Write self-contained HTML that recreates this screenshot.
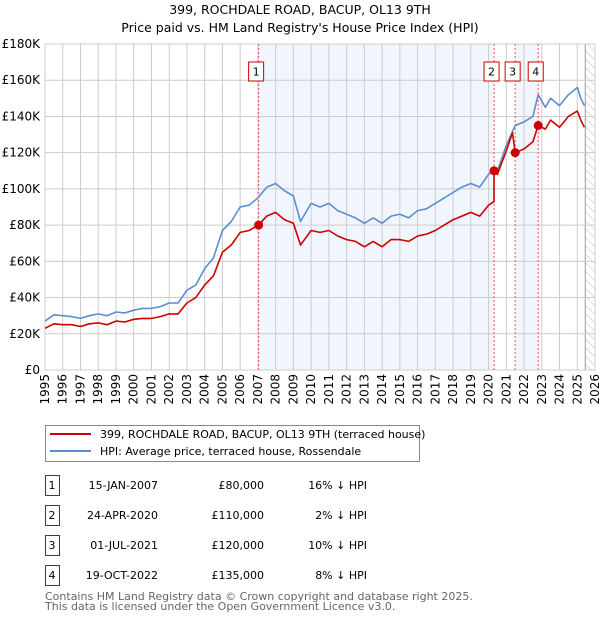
<!DOCTYPE html>
<html><head><meta charset="utf-8"><style>
body{margin:0;background:#fff;font-family:"Liberation Sans","DejaVu Sans",sans-serif;}
svg text{font-family:"DejaVu Sans","Liberation Sans",sans-serif;}
</style></head><body>
<svg id="c" width="600" height="620" xmlns="http://www.w3.org/2000/svg">
<defs><pattern id="hatch" width="6" height="6" patternUnits="userSpaceOnUse" patternTransform="rotate(-45)"><line x1="0" y1="0" x2="0" y2="6" stroke="#bbb" stroke-width="1"/></pattern></defs>
<text x="300" y="14" text-anchor="middle" font-size="12.5">399, ROCHDALE ROAD, BACUP, OL13 9TH</text>
<text x="300" y="32" text-anchor="middle" font-size="12.5">Price paid vs. HM Land Registry's House Price Index (HPI)</text>
<g id="plot"></g>
<g>
<rect x="45.5" y="425.5" width="374" height="36" fill="#fff" stroke="#888"/>
<line x1="50" y1="434" x2="91" y2="434" stroke="#cc0000" stroke-width="2"/>
<text x="100" y="438" font-size="11">399, ROCHDALE ROAD, BACUP, OL13 9TH (terraced house)</text>
<line x1="50" y1="451" x2="91" y2="451" stroke="#5b8ed0" stroke-width="2"/>
<text x="100" y="455" font-size="11">HPI: Average price, terraced house, Rossendale</text>
</g>
<g id="table" font-size="11"></g>
<text x="45" y="600" font-size="11" fill="#666">Contains HM Land Registry data © Crown copyright and database right 2025.</text>
<text x="45" y="610" font-size="11" fill="#666">This data is licensed under the Open Government Licence v3.0.</text>
</svg>
<script>
const hpiYears=[1995,1995.5,1996,1996.5,1997,1997.5,1998,1998.5,1999,1999.5,2000,2000.5,2001,2001.5,2002,2002.5,2003,2003.5,2004,2004.5,2005,2005.5,2006,2006.5,2007,2007.5,2008,2008.5,2009,2009.4,2009.7,2010,2010.5,2011,2011.5,2012,2012.5,2013,2013.5,2014,2014.5,2015,2015.5,2016,2016.5,2017,2017.5,2018,2018.5,2019,2019.5,2020,2020.3,2020.5,2021,2021.5,2022,2022.5,2022.8,2023.2,2023.5,2024,2024.5,2025,2025.2,2025.4];
const hpiValues=[27,30.5,30,29.5,28.5,30,31,30,32,31.5,33,34,34,35,37,37,44,47,56,62,77,82,90,91,95,101,103,99,96,82,87,92,90,92,88,86,84,81,84,81,85,86,84,88,89,92,95,98,101,103,101,108,111,110,124,135,137,140,152,145,150,146,152,156,150,146];
const priceYears=[1995,1995.5,1996,1996.5,1997,1997.5,1998,1998.5,1999,1999.5,2000,2000.5,2001,2001.5,2002,2002.5,2003,2003.5,2004,2004.5,2005,2005.5,2006,2006.5,2007.04,2007.5,2008,2008.5,2009,2009.4,2009.7,2010,2010.5,2011,2011.5,2012,2012.5,2013,2013.5,2014,2014.5,2015,2015.5,2016,2016.5,2017,2017.5,2018,2018.5,2019,2019.5,2020,2020.31,2020.31,2020.5,2021,2021.35,2021.5,2022,2022.5,2022.8,2023.2,2023.5,2024,2024.5,2025,2025.2,2025.4];
const priceValues=[23,25.5,25,25,24,25.5,26,25,27,26.5,28,28.5,28.5,29.5,31,31,37,40,47,52,65,69,76,77,80,85,87,83,81,69,73,77,76,77,74,72,71,68,71,68,72,72,71,74,75,77,80,83,85,87,85,91,93,110,108,121,131,120,122,126,135,133,138,134,140,143,138,134];
const saleLabels=["1","2","3","4"];
const saleYears=[2007.04,2020.31,2021.5,2022.8];
const salePrices=[80,110,120,135];
const saleDates=["15-JAN-2007","24-APR-2020","01-JUL-2021","19-OCT-2022"];
const salePriceText=["£80,000","£110,000","£120,000","£135,000"];
const saleHpiText=["16% ↓ HPI","2% ↓ HPI","10% ↓ HPI","8% ↓ HPI"];
const yTicks=[0,20,40,60,80,100,120,140,160,180];
const yTickLabels=["£0","£20K","£40K","£60K","£80K","£100K","£120K","£140K","£160K","£180K"];
const xTicks=[1995,1996,1997,1998,1999,2000,2001,2002,2003,2004,2005,2006,2007,2008,2009,2010,2011,2012,2013,2014,2015,2016,2017,2018,2019,2020,2021,2022,2023,2024,2025,2026];

const L=45,R=595,T=44,B=370,X0=1995,X1=2026,YMAX=180;
const xs=v=>L+(v-X0)/(X1-X0)*(R-L);
const ys=v=>B-v/YMAX*(B-T);
const NS="http://www.w3.org/2000/svg";
const plot=document.getElementById('plot');
function mk(tag,attrs,parent){const e=document.createElementNS(NS,tag);for(const k in attrs)e.setAttribute(k,attrs[k]);(parent||plot).appendChild(e);return e;}

// shaded ownership bands
for(let i=0;i<saleYears.length;i+=2){
  const x2=i+1<saleYears.length?xs(saleYears[i+1]):R;
  const r=mk('rect',{x:xs(saleYears[i]),y:T,width:x2-xs(saleYears[i]),height:B-T,fill:'#eef3fd',opacity:0.8});
  
  
}
// hatch future
const hx=xs(2025.45);
const hr=mk('rect',{x:hx,y:T,width:R-hx,height:B-T,fill:'url(#hatch)'});


mk('line',{x1:hx,y1:T,x2:hx,y2:B,stroke:'#999','stroke-width':1});

// grid
yTicks.forEach((v,i)=>{
  const g=mk('line',{x1:L,x2:R,y1:ys(v),y2:ys(v),stroke:'#cccccc','stroke-width':1});
  
  
  const t=mk('text',{x:L-5,y:ys(v)+4,'text-anchor':'end','font-size':12});
  t.textContent=yTickLabels[i];
  
  
});
xTicks.forEach(v=>{
  const g=mk('line',{x1:xs(v),x2:xs(v),y1:T,y2:B,stroke:'#cccccc','stroke-width':1});
  
  
  const t=mk('text',{x:0,y:0,'text-anchor':'end','font-size':12,transform:`translate(${xs(v)+4},374) rotate(-90)`});
  t.textContent=v;
  
  
});
mk('rect',{x:L,y:T,width:R-L,height:B-T,fill:'none',stroke:'#cccccc'});

// sale vertical lines
saleYears.forEach((y,i)=>{
  const l=mk('line',{x1:xs(y),x2:xs(y),y1:T,y2:B,stroke:'#ee5555','stroke-width':1,'stroke-dasharray':'2,2'});
  
  
});

function path(xa,va,col,name){
  const d=xa.map((x,i)=>(i?'L':'M')+xs(x).toFixed(1)+','+ys(va[i]).toFixed(1)).join('');
  const p=mk('path',{d:d,fill:'none',stroke:col,'stroke-width':1.6,'stroke-linejoin':'round'});
  
  
}
path(hpiYears,hpiValues,'#5b8ed0','hpi-line');
path(priceYears,priceValues,'#cc0000','price-line');

saleYears.forEach((y,i)=>{
  const c=mk('circle',{cx:xs(y),cy:ys(salePrices[i]),r:4.5,fill:'#cc0000'});
  
  
  const b=mk('rect',{x:xs(y)-10,y:62,width:15,height:19,fill:'#fff',stroke:'#cc0000'});
  
  
  const t=mk('text',{x:xs(y)-2.5,y:75.5,'text-anchor':'middle','font-size':11});
  t.textContent=saleLabels[i];
  
  
});

// table
const tb=document.getElementById('table');
saleLabels.forEach((s,i)=>{
  const y0=475+i*30;
  const b=mk('rect',{x:45.5,y:y0+0.5,width:14,height:20,fill:'#fff',stroke:'#cc0000'},tb);
  
  
  const cells=[[52,'middle',s],[158,'end',saleDates[i]],[264,'end',salePriceText[i]],[367,'end',saleHpiText[i]]];
  cells.forEach(c=>{
    const t=mk('text',{x:c[0],y:y0+14,'text-anchor':c[1]},tb);
    t.textContent=c[2];
    
    
  });
});
</script>
</body></html>
